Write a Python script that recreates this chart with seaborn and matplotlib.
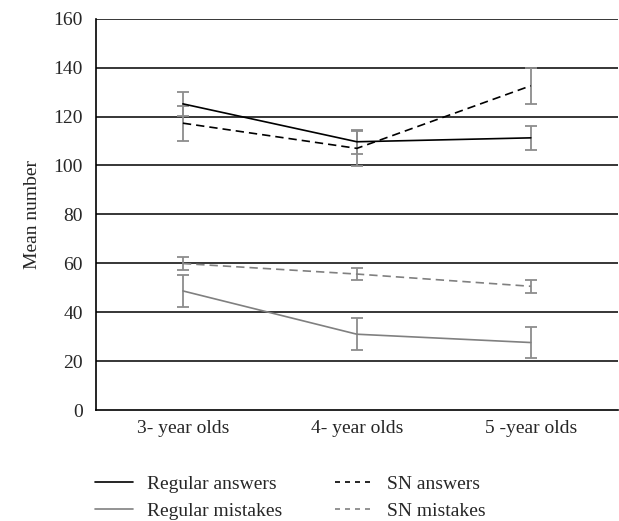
import numpy as np
import pandas as pd
import matplotlib
matplotlib.use("Agg")
import matplotlib.pyplot as plt
import seaborn as sns

ages = ["3- year olds", "4- year olds", "5 -year olds"]
regular_answers = [125.2, 109.7, 111.3]
regular_answers_err = [5.0, 5.0, 5.0]
sn_answers = [117.3, 107.0, 132.6]
sn_answers_err = [7.2, 7.2, 7.3]
regular_mistakes = [48.7, 31.0, 27.6]
regular_mistakes_err = [6.6, 6.5, 6.5]
sn_mistakes = [59.9, 55.6, 50.6]
sn_mistakes_err = [2.6, 2.6, 2.6]

series = ["Regular answers", "SN answers", "Regular mistakes", "SN mistakes"]
values = [regular_answers, sn_answers, regular_mistakes, sn_mistakes]
errors = [regular_answers_err, sn_answers_err, regular_mistakes_err, sn_mistakes_err]

rows = []
for name, vals in zip(series, values):
    for i, v in enumerate(vals):
        rows.append({"x": i, "value": v, "series": name})
df = pd.DataFrame(rows)

sns.set_style("white")
plt.rcParams["font.family"] = ["Liberation Serif", "DejaVu Serif"]
FS = 14

colors = {"Regular answers": "black", "SN answers": "black",
          "Regular mistakes": "#808080", "SN mistakes": "#808080"}
dashes = {"Regular answers": "", "SN answers": (5, 3),
          "Regular mistakes": "", "SN mistakes": (5, 3)}

fig = plt.figure(figsize=(6.19, 5.21), dpi=100)
ax = fig.add_axes([0.155, 0.213, 0.843, 0.751])

for y in range(20, 161, 20):
    ax.axhline(y, color="black", lw=1.1, zorder=1)

# error bars first (grey), then lines
for name, vals, errs in zip(series, values, errors):
    ax.errorbar(range(len(ages)), vals, yerr=errs, fmt="none", ecolor="#8c8c8c",
                elinewidth=1.3, capsize=4, capthick=1.3, zorder=2)

sns.lineplot(data=df, x="x", y="value", hue="series", style="series",
             palette=colors, dashes=dashes, lw=1.2, ax=ax, legend=False, zorder=3)

ax.set_xlim(-0.5, 2.5)
ax.set_ylim(0, 160)
ax.set_yticks(range(0, 161, 20))
ax.set_xticks([-0.5, 0.5, 1.5, 2.5])
ax.set_xticklabels([])
ax.set_xticks(range(len(ages)), minor=True)
ax.set_xticklabels(ages, minor=True)
ax.tick_params(axis="x", which="major", direction="out", length=5, width=1, color="black")
ax.tick_params(axis="x", which="minor", length=0, pad=7, labelsize=FS)
ax.tick_params(axis="y", direction="out", length=5.5, width=1, color="black", labelsize=FS, pad=4)
ax.set_xlabel("")
ax.set_ylabel("Mean number", fontsize=FS, labelpad=9)

for side in ["top", "right"]:
    ax.spines[side].set_visible(False)
for side in ["left", "bottom"]:
    ax.spines[side].set_color("black")
    ax.spines[side].set_linewidth(1.2)

handles = [
    plt.Line2D([], [], color="black", lw=1.2),
    plt.Line2D([], [], color="#808080", lw=1.2),
    plt.Line2D([], [], color="black", lw=1.2, dashes=(3, 3)),
    plt.Line2D([], [], color="#808080", lw=1.2, dashes=(3, 3)),
]
labels = ["Regular answers", "Regular mistakes", "SN answers", "SN mistakes"]
fig.legend(handles, labels, ncol=2, loc="upper left",
           bbox_to_anchor=(95 / 619, 1 - 475 / 521), borderpad=0, borderaxespad=0,
           frameon=False, fontsize=FS, handlelength=1.95, columnspacing=2.75,
           labelspacing=0.5, handletextpad=0.7)

fig.savefig("out.png", dpi=100)
